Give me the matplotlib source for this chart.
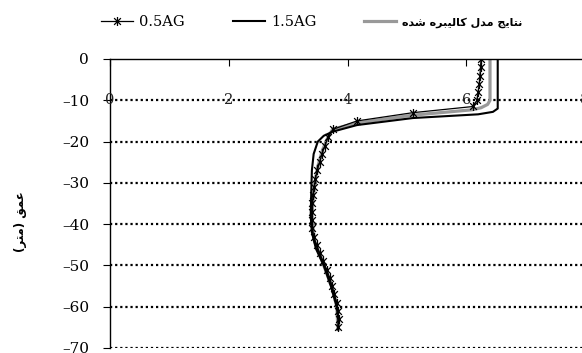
import matplotlib
matplotlib.use("Agg")
import matplotlib.pyplot as plt
from matplotlib.path import Path

# ---------------- data ----------------
depth_05 = [0, -2, -4, -6, -8, -10, -11.5, -13, -15, -17, -19, -21, -23, -25, -27, -29,
            -31, -33, -35, -37, -39, -41, -43, -45, -47, -49, -51, -53, -55, -57, -59,
            -61, -63, -65]
x_05 = [6.25, 6.24, 6.23, 6.22, 6.20, 6.18, 6.12, 5.10, 4.16, 3.76, 3.67, 3.62, 3.57,
        3.53, 3.49, 3.46, 3.44, 3.42, 3.41, 3.40, 3.40, 3.41, 3.43, 3.48, 3.53, 3.59,
        3.65, 3.70, 3.74, 3.78, 3.82, 3.84, 3.85, 3.84]

depth_15 = [0, -12, -12.8, -13.4, -14.3, -16, -17.6, -18.6, -20, -23, -27, -32, -38,
            -42, -46, -50, -55, -60, -64, -65.5]
x_15 = [6.53, 6.53, 6.45, 6.20, 5.10, 4.16, 3.75, 3.60, 3.50, 3.43, 3.40, 3.39, 3.38,
        3.40, 3.47, 3.60, 3.72, 3.82, 3.85, 3.84]

depth_cal = [0, -10, -11, -11.8, -12.3, -13.6, -15.5, -17, -19, -22, -26, -30, -34,
             -38, -44, -50, -55, -60, -65.5]
x_cal = [6.40, 6.40, 6.36, 6.25, 6.10, 5.10, 4.16, 3.75, 3.67, 3.58, 3.50, 3.45, 3.42,
         3.40, 3.44, 3.60, 3.73, 3.82, 3.84]

x_ticks = [0, 2, 4, 6, 8]
y_ticks = [0, -10, -20, -30, -40, -50, -60, -70]
y_tick_labels = ["0", "–10", "–20", "–30", "–40", "–50", "–60", "–70"]

label_05 = "0.5AG"
label_15 = "1.5AG"
# "نتایج مدل کالیبره شده" (visual order, presentation forms)
label_cal = "\uFEE9\uFEAA\uFEB7 \uFEE9\uFEAE\uFE92\uFEF4\uFEDF\uFE8E\uFEDB \uFEDD\uFEAA\uFEE3 \uFE9E\uFEF3\uFE8E\uFE98\uFEE7"
# "عمق (متر)"
y_label = "(\uFEAE\uFE98\uFEE3) \uFED6\uFEE4\uFECB"

# ---------------- figure ----------------
W, H = 582, 353
fig = plt.figure(figsize=(W / 100, H / 100), dpi=100)
ax = fig.add_axes([110 / W, 5 / H, 475 / W, 289 / H])
ax.set_xlim(0, 8)
ax.set_ylim(-70, 0)

# star marker (x with vertical bar)
star = Path([(0, -1), (0, 1), (-0.75, -0.75), (0.75, 0.75), (-0.75, 0.75), (0.75, -0.75)],
            [Path.MOVETO, Path.LINETO, Path.MOVETO, Path.LINETO, Path.MOVETO, Path.LINETO])

# grid lines (dotted)
for yv in y_ticks[1:]:
    ax.axhline(yv, color="black", lw=1.6, linestyle=(0, (1, 1.3)), zorder=1)

l_cal, = ax.plot(x_cal, depth_cal, color="#999999", lw=2.3, zorder=2,
                 solid_joinstyle="round", label=label_cal)
l_15, = ax.plot(x_15, depth_15, color="black", lw=1.5, zorder=3,
                solid_joinstyle="round", label=label_15)
l_05, = ax.plot(x_05, depth_05, color="black", lw=0.9, zorder=4,
                marker=star, markersize=6.5, markeredgewidth=0.9,
                markerfacecolor="none", markeredgecolor="black", label=label_05)

# spines
for s in ["right", "bottom"]:
    ax.spines[s].set_visible(False)
ax.spines["top"].set_linewidth(1.0)
ax.spines["left"].set_linewidth(1.0)

# x ticks on top, pointing in
ax.set_xticks(x_ticks)
ax.tick_params(axis="x", top=True, bottom=False, labeltop=False, labelbottom=False,
               direction="in", length=5, width=0.8)
for t in x_ticks:
    ax.text(t, -10, str(t), ha="center", va="center", fontsize=10.5,
            family="DejaVu Serif", color="#222222", clip_on=False, zorder=5)

ax.set_yticks(y_ticks)
ax.set_yticklabels(y_tick_labels, family="DejaVu Serif", fontsize=11)
ax.tick_params(axis="y", direction="out", length=5, width=0.8, pad=10)

# y label
fig.text(21 / W, 1 - 222 / H, y_label, rotation=90, ha="center", va="center",
         family="DejaVu Sans", fontweight="bold", fontsize=8.5)

# legend
leg = fig.legend(handles=[l_05, l_15, l_cal], loc="center",
                 bbox_to_anchor=(312 / W, 1 - 22 / H), ncol=3, frameon=False,
                 handlelength=2.2, handletextpad=0.4, columnspacing=3.3,
                 prop={"family": "DejaVu Serif", "size": 10.5})
t = leg.get_texts()[2]
t.set_fontfamily("DejaVu Sans")
t.set_fontweight("bold")
t.set_fontsize(8)

fig.savefig("out.png", dpi=100)
